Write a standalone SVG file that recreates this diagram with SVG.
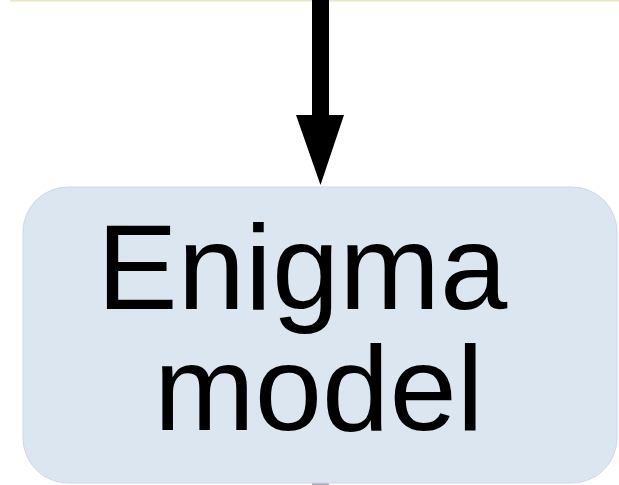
<svg xmlns="http://www.w3.org/2000/svg" width="619" height="485" viewBox="0 0 619 485">
  <style>
    .node-box { fill: #dce6f1; stroke: #cdd9e9; stroke-width: 1; }
    .label { font-family: "Liberation Sans", Arial, sans-serif; font-size: 121px; fill: #000000; }
    .edge { fill: #000000; }
  </style>
  <rect x="0" y="0" width="619" height="485" fill="#ffffff"/>
  <!-- edge of the node above -->
  <rect x="10" y="0" width="609" height="1.5" fill="#eee5c6"/>
  <g id="connectors">
    <path class="edge" d="M312 0 H329 V115 H344 L320.5 185 L296 115 H312 Z"/>
    <rect x="312" y="483" width="17" height="2" fill="#a9a9a9"/>
  </g>
  <g id="enigma-model">
    <rect class="node-box" x="23" y="187" width="594" height="296" rx="45" ry="45"/>
    <text class="label" x="97" y="309">Enigma</text>
    <text class="label" x="154" y="430">model</text>
  </g>
</svg>
